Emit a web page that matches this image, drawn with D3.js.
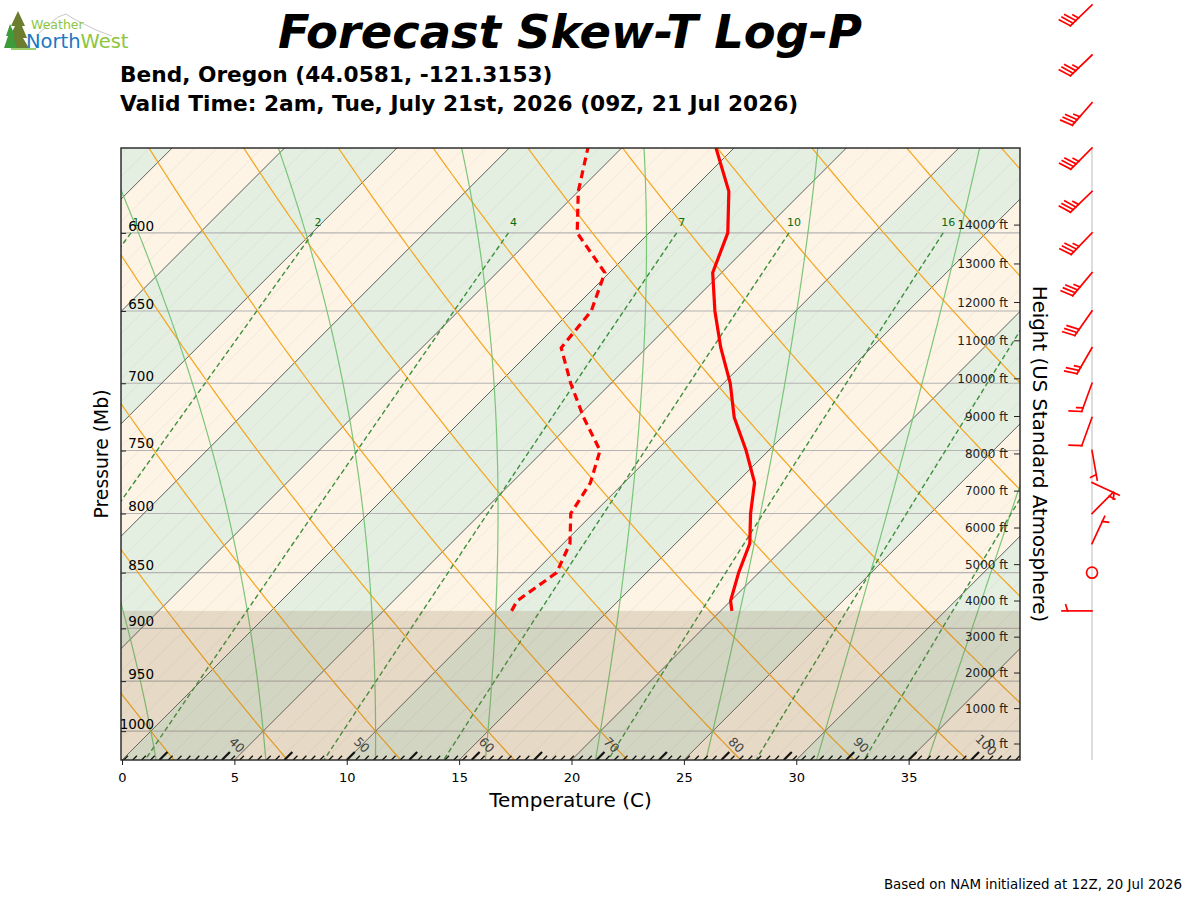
<!DOCTYPE html>
<html><head><meta charset="utf-8">
<script src="https://cdn.jsdelivr.net/npm/d3@7/dist/d3.min.js"></script>
<style>body{margin:0;background:#fff}svg{display:block}text{font-family:"DejaVu Sans",sans-serif}</style>
</head><body><svg id="c" width="1200" height="900"></svg>
<script>
// ---------------- DATA ----------------
const pressureLevels = [884, 875, 850, 825, 800, 775, 750, 725, 700, 675, 650, 625, 600, 575, 550];
const temperature    = [20.5, 20.0, 19.1, 18.3, 17.0, 15.8, 14.0, 12.0, 10.3, 8.3, 6.4, 4.6, 3.5, 1.7, -0.8];
const dewpoint       = [10.7, 10.5, 11.0, 10.3, 9.0, 8.5, 7.5, 5.3, 3.2, 1.2, 0.9, -0.2, -3.2, -5.0, -6.5];
const windPressure = [884, 850, 825, 800, 775, 750, 725, 700, 675, 650, 625, 600, 575, 550, 525, 500, 475];
const windDir      = [270, 0, 25, 45, 115, 170, 200, 200, 210, 215, 220, 224, 226, 225, 221, 226, 226];
const windSpeed    = [5, 0, 5, 5, 5, 5, 10, 15, 25, 30, 35, 35, 35, 35, 35, 35, 35];
const mixingRatios = [0.4, 1, 2, 4, 7, 10, 16, 24, 32];        // g/kg
const tempTicks = [0, 5, 10, 15, 20, 25, 30, 35];
const pressureTicks = [600, 650, 700, 750, 800, 850, 900, 950, 1000];
const heightTicksFt = [0,1000,2000,3000,4000,5000,6000,7000,8000,9000,10000,11000,12000,13000,14000];
const fahrenheitLabels = [40, 50, 60, 70, 80, 90, 100];
const titleText = "Forecast Skew-T Log-P";
const locationText = "Bend, Oregon (44.0581, -121.3153)";
const validText = "Valid Time: 2am, Tue, July 21st, 2026 (09Z, 21 Jul 2026)";
const footerText = "Based on NAM initialized at 12Z, 20 Jul 2026";

// ---------------- LAYOUT ----------------
const svg = d3.select('#c');
const L0 = 121, R0 = 1020, T0 = 148, B0 = 760;
const pBot = 1030, pTop = 550;
const x = d3.scaleLinear().domain([0, 40]).range([122, 1021]);
const y = d3.scaleLog().domain([pBot, pTop]).range([B0, T0]);
const skew = (T, p) => x(T) + (y(pBot) - y(p));

// thermodynamics
const Rd = 287.04749, Cp = 1004.6662, Lv = 2.50084e6, eps = 0.6219569, kappa = Rd / Cp;
const dryT = (thC, p) => (thC + 273.15) * Math.pow(p / 1000, kappa) - 273.15;
const satVP = Tc => 6.112 * Math.exp(17.67 * Tc / (Tc + 243.5));
const dewFromE = e => { const l = Math.log(e / 6.112); return 243.5 * l / (17.67 - l); };
const mixT = (wg, p) => { const w = wg / 1000; return dewFromE(p * w / (eps + w)); };
function moistProfile(T0c) {
  const f = (p, T) => { const es = satVP(T - 273.15); const rs = eps * es / (p - es);
    return (Rd * T + Lv * rs) / (Cp + Lv * Lv * rs * eps / (Rd * T * T)) / p; };
  function integ(pEnd, dp) {
    let p = 1000, T = T0c + 273.15; const out = [[T0c, 1000]];
    while ((dp < 0 && p > pEnd) || (dp > 0 && p < pEnd)) {
      const k1 = f(p, T), k2 = f(p + dp / 2, T + dp / 2 * k1), k3 = f(p + dp / 2, T + dp / 2 * k2), k4 = f(p + dp, T + dp * k3);
      T += dp / 6 * (k1 + 2 * k2 + 2 * k3 + k4); p += dp; out.push([T - 273.15, p]);
    }
    return out;
  }
  return integ(1040, 2).reverse().concat(integ(530, -2).slice(1));
}
const line = d3.line().x(d => skew(d[0], d[1])).y(d => y(d[1]));

// clip
svg.append('defs').append('clipPath').attr('id', 'pc').append('rect')
  .attr('x', L0).attr('y', T0).attr('width', R0 - L0).attr('height', B0 - T0);
const g = svg.append('g').attr('clip-path', 'url(#pc)');

// bands
d3.range(-50, 45, 5).forEach(T => {
  const even = (((T / 5) % 2) + 2) % 2 === 0;
  const pts = [[T, pBot], [T + 5, pBot], [T + 5, pTop], [T, pTop]];
  g.append('path').attr('d', line(pts) + 'Z').attr('fill', even ? '#e4efe2' : '#fdf4e5');
});
// faint 1C isotherms
d3.range(-50, 45, 1).forEach(T => {
  g.append('path').attr('d', line([[T, pBot], [T, pTop]])).attr('stroke', '#9a9a9a')
    .attr('stroke-opacity', 0.22).attr('stroke-width', 0.6).attr('fill', 'none');
});
// pressure grid
pressureTicks.forEach(p => g.append('line').attr('x1', L0).attr('x2', R0).attr('y1', y(p)).attr('y2', y(p))
  .attr('stroke', '#b4b4b4').attr('stroke-width', 1.1));
// isotherms
d3.range(-50, 45, 5).forEach(T => {
  g.append('path').attr('d', line([[T, pBot], [T, pTop]])).attr('stroke', '#222')
    .attr('stroke-opacity', 0.75).attr('stroke-width', 0.9).attr('fill', 'none');
});
// dry adiabats
d3.range(-30, 110, 5).forEach(th => {
  const pts = d3.range(pTop - 10, pBot + 11, 5).map(p => [dryT(th, p), p]);
  g.append('path').attr('d', line(pts)).attr('stroke', '#f5a41c').attr('stroke-width', 1.2).attr('fill', 'none');
});
// moist adiabats
d3.range(-30, 50, 5).forEach(t0 => {
  g.append('path').attr('d', line(moistProfile(t0))).attr('stroke', '#66bd66')
    .attr('stroke-opacity', 0.85).attr('stroke-width', 1.2).attr('fill', 'none');
});
// mixing ratio lines
mixingRatios.forEach(w => {
  const pts = d3.range(600, pBot + 1, 5).map(p => [mixT(w, p), p]);
  g.append('path').attr('d', line(pts)).attr('stroke', '#3d8f3d').attr('stroke-width', 1.4)
    .attr('stroke-dasharray', '5,3').attr('fill', 'none');
  const lx = skew(mixT(w, 600), 600) + 5;
  if (lx > L0 + 4 && lx < R0 - 4)
    g.append('text').attr('x', lx).attr('y', y(600) - 7)
      .attr('text-anchor', 'middle').attr('font-size', 11).attr('fill', '#0b6b0b').text(w);
});
// ground overlay
const sfcP = pressureLevels[0];
g.append('rect').attr('x', L0).attr('width', R0 - L0).attr('y', y(sfcP)).attr('height', B0 - y(sfcP))
  .attr('fill', 'rgb(140,110,70)').attr('fill-opacity', 0.2);

// profiles
const tempPts = pressureLevels.map((p, i) => [temperature[i], p]);
const dewPts = pressureLevels.map((p, i) => [dewpoint[i], p]);
g.append('path').attr('d', line(dewPts)).attr('stroke', '#ff0000').attr('stroke-width', 3.2)
  .attr('stroke-dasharray', '8,5').attr('fill', 'none');
g.append('path').attr('d', line(tempPts)).attr('stroke', '#ff0000').attr('stroke-width', 3.2).attr('fill', 'none');

// Fahrenheit ticks along bottom
const f2c = F => (F - 32) * 5 / 9;
const smallTop = y.invert(B0 - 4.2), boldTop = y.invert(B0 - 8);
d3.range(30, 106, 5 / 7).forEach((F, i) => {
  const bold = i % 7 === 0;
  const Tc = f2c(F);
  g.append('path').attr('d', line([[Tc, pBot], [Tc, bold ? boldTop : smallTop]]))
    .attr('stroke', '#111').attr('stroke-width', bold ? 2.2 : 1.3).attr('fill', 'none');
});
const fLabP = y.invert(B0 - 15);
fahrenheitLabels.forEach(F => {
  g.append('text').attr('transform', `translate(${skew(f2c(F), fLabP)},${y(fLabP)}) rotate(45)`)
    .attr('text-anchor', 'middle').attr('dy', '0.35em').attr('font-size', 12.5).attr('fill', '#444').text(F);
});

// frame
svg.append('rect').attr('x', L0).attr('y', T0).attr('width', R0 - L0).attr('height', B0 - T0)
  .attr('fill', 'none').attr('stroke', '#222').attr('stroke-width', 1.4);

// bottom axis
const xa = svg.append('g').attr('transform', `translate(0,${B0})`)
  .call(d3.axisBottom(x).tickValues(tempTicks).tickSize(5).tickFormat(d3.format('d')));
xa.select('.domain').remove();
xa.selectAll('text').attr('font-size', 13).attr('font-family', 'DejaVu Sans').attr('dy', '1.05em').attr('fill', '#000');
xa.selectAll('line').attr('stroke', '#222');

// left pressure axis (inside)
const ya = svg.append('g').attr('transform', `translate(${L0},0)`)
  .call(d3.axisRight(y).tickValues(pressureTicks).tickSize(5).tickFormat(d3.format('d')));
ya.select('.domain').remove();
ya.selectAll('text').attr('font-size', 13.5).attr('font-family', 'DejaVu Sans').attr('text-anchor', 'end')
  .attr('x', 33).attr('dy', '-0.2em').attr('fill', '#000');
ya.selectAll('line').attr('stroke', '#222');

// right height axis (inside)
const stdP = ft => 1013.25 * Math.pow(1 - 0.0065 * ft * 0.3048 / 288.15, 5.25588);
const hScale = v => y(stdP(v));
const ra = svg.append('g').attr('transform', `translate(${R0},0)`);
heightTicksFt.forEach(h => {
  ra.append('line').attr('x1', -6).attr('x2', 0).attr('y1', hScale(h)).attr('y2', hScale(h)).attr('stroke', '#222');
  ra.append('text').attr('x', -12).attr('y', hScale(h)).attr('dy', '0.35em').attr('text-anchor', 'end')
    .attr('font-size', 12).attr('fill', '#222').text(h + ' ft');
});

// axis titles
svg.append('text').attr('x', (L0 + R0) / 2).attr('y', 807).attr('text-anchor', 'middle').attr('font-size', 20).text('Temperature (C)');
svg.append('text').attr('transform', `translate(101,${(T0 + B0) / 2}) rotate(-90)`).attr('text-anchor', 'middle')
  .attr('dy', '0.35em').attr('font-size', 18.8).text('Pressure (Mb)');
svg.append('text').attr('transform', `translate(1040,${(T0 + B0) / 2}) rotate(90)`).attr('text-anchor', 'middle')
  .attr('dy', '0.35em').attr('font-size', 19.8).text('Height (US Standard Atmosphere)');

// titles
svg.append('text').attr('x', 570).attr('y', 48).attr('text-anchor', 'middle').attr('font-size', 46.4)
  .attr('font-weight', 'bold').attr('font-style', 'italic').text(titleText);
svg.append('text').attr('x', 120).attr('y', 82).attr('font-size', 21.7).attr('font-weight', 'bold').text(locationText);
svg.append('text').attr('x', 120).attr('y', 111).attr('font-size', 21.7).attr('font-weight', 'bold').text(validText);
svg.append('text').attr('x', 1182).attr('y', 889).attr('text-anchor', 'end').attr('font-size', 13.4).text(footerText);

// wind barbs
const WX = 1092;
svg.append('line').attr('x1', WX).attr('x2', WX).attr('y1', T0).attr('y2', B0).attr('stroke', '#d2d2d2').attr('stroke-width', 1.5);
const wb = svg.append('g').attr('stroke', '#ff0000').attr('stroke-width', 1.7).attr('fill', 'none').attr('stroke-linecap', 'square');
windPressure.forEach((p, i) => {
  const cx = WX, cy = y(p), spd = windSpeed[i];
  if (Math.round(spd / 5) * 5 === 0) { wb.append('circle').attr('cx', cx).attr('cy', cy).attr('r', 5.5); return; }
  const Lb = 30, bh = 0.4 * Lb, sp = 0.125 * Lb, fw = 0.25 * Lb;
  const b = windDir[i] * Math.PI / 180;
  const d = [Math.sin(b), -Math.cos(b)], n = [Math.cos(b), Math.sin(b)];
  const P = (s, h) => [cx + d[0] * s + n[0] * h, cy + d[1] * s + n[1] * h];
  let r = Math.round(spd / 5) * 5;
  const nflag = Math.floor(r / 50); r -= nflag * 50;
  const nfull = Math.floor(r / 10); r -= nfull * 10;
  const half = r >= 5;
  const segs = [[P(0, 0), P(Lb, 0)]];
  let off = Lb;
  for (let k = 0; k < nflag; k++) { segs.push([P(off, 0), P(off - fw / 2, bh), P(off - fw, 0)]); off -= fw + sp; }
  for (let k = 0; k < nfull; k++) { segs.push([P(off, 0), P(off + fw / 2, bh)]); off -= sp; }
  if (half) { if (off === Lb) off -= 1.5 * sp; segs.push([P(off, 0), P(off + fw / 4, bh / 2)]); }
  segs.forEach(s => wb.append('path').attr('d', d3.line()(s)));
});

// logo
const lg = svg.append('g');
lg.append('path').attr('d', 'M38,34 L58,17 L66,14 L74,19 L96,30 L112,36').attr('fill', 'none').attr('stroke', '#c8c8c8').attr('stroke-width', 1);
lg.append('rect').attr('x', 17).attr('y', 40).attr('width', 3).attr('height', 10).attr('fill', '#7a4a22');
lg.append('path').attr('d', 'M18,11 L11,26 L15,26 L9,38 L14,38 L7,48 L29,48 L23,38 L27,38 L22,26 L25,26 Z').attr('fill', '#6b7d2e');
lg.append('path').attr('d', 'M10,24 L6,36 L8,36 L4,48 L17,48 L13,36 L15,36 Z').attr('fill', '#3e9b3a');
lg.append('path').attr('d', 'M11,49 L36,49').attr('stroke', '#9ccf6a').attr('stroke-width', 2);
lg.append('text').attr('x', 31).attr('y', 29).attr('font-size', 12.5).attr('fill', '#8cc63f').text('Weather');
const nw = lg.append('text').attr('x', 26).attr('y', 48).attr('font-size', 19.5);
nw.append('tspan').attr('fill', '#1b78c2').text('North');
nw.append('tspan').attr('fill', '#8cc63f').text('West');
</script></body></html>
